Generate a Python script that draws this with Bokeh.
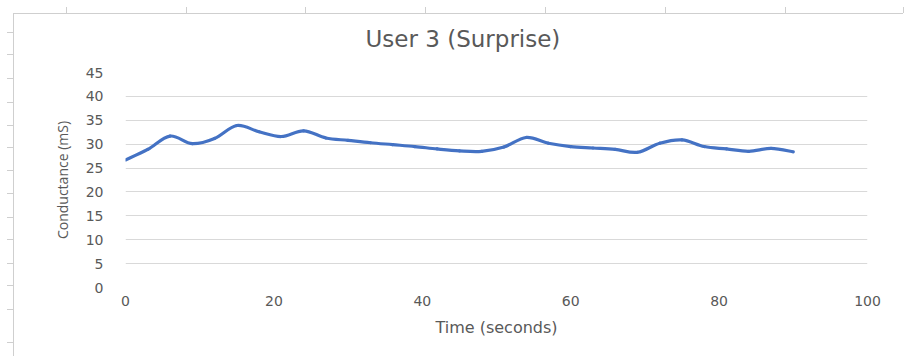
import numpy as np
from bokeh.plotting import figure
from bokeh.models import Range1d, FixedTicker
from bokeh.embed import file_html
from bokeh.resources import INLINE

# Skin conductance readings, one every 3 seconds
time_s = [0, 3, 6, 9, 12, 15, 18, 21, 24, 27, 30, 33, 36, 39, 42, 45,
          48, 51, 54, 57, 60, 63, 66, 69, 72, 75, 78, 81, 84, 87, 90]
conductance_ms = [26.7, 28.9, 31.7, 30.1, 31.2, 33.9, 32.6, 31.6, 32.8, 31.3,
                  30.8, 30.3, 29.9, 29.5, 29.0, 28.6, 28.5, 29.4, 31.4, 30.2,
                  29.5, 29.2, 28.9, 28.3, 30.2, 30.9, 29.5, 29.0, 28.5, 29.1, 28.4]

chart_title = "User 3 (Surprise)"
x_title = "Time (seconds)"
y_title = "Conductance (mS)"
x_ticks = [0, 20, 40, 60, 80, 100]
y_ticks = [0, 5, 10, 15, 20, 25, 30, 35, 40, 45]

TEXT = "#595959"
GRID = "#d9d9d9"
LINE = "#4472C4"
SHEET = "#cfcfcf"

# Worksheet cell edges showing around the chart, drawn as CSS background layers
EDGE = 13
left_marks = [32, 54, 78, 102, 125, 147, 170, 193, 217, 239, 263, 285, 309, 342]
top_marks = [66, 186, 305, 425, 545, 665, 785, 903]
rule = f"linear-gradient({SHEET}, {SHEET})"
layers = [f"{rule} {EDGE}px {EDGE}px / 1px {356 - EDGE}px no-repeat",
          f"{rule} {EDGE}px {EDGE}px / {903 - EDGE}px 1px no-repeat"]
layers += [f"{rule} {EDGE - 6}px {ym}px / 6px 1px no-repeat" for ym in left_marks]
layers += [f"{rule} {xm}px {EDGE - 6}px / 1px 6px no-repeat" for xm in top_marks]

p = figure(width=907, height=356, output_backend="svg", toolbar_location=None,
           x_range=Range1d(0, 100), y_range=Range1d(0, 45),
           min_border_left=125, min_border_right=40,
           min_border_top=72, min_border_bottom=69)
p.styles = {"background": ", ".join(layers + ["white"])}
p.outline_line_color = None
p.background_fill_color = "white"
p.border_fill_color = None

# Chart title
p.title.text = chart_title
p.title.align = "left"
p.title.offset = 240
p.title.standoff = 42
p.title.text_color = TEXT
p.title.text_font = "DejaVu Sans"
p.title.text_font_size = "23px"
p.title.text_font_style = "normal"

# Axes: labels only, no axis lines or tick marks
p.xaxis.ticker = FixedTicker(ticks=x_ticks)
p.yaxis.ticker = FixedTicker(ticks=y_ticks)
for ax in (p.xaxis[0], p.yaxis[0]):
    ax.axis_line_color = None
    ax.major_tick_line_color = None
    ax.minor_tick_line_color = None
    ax.major_tick_in = 0
    ax.major_tick_out = 0
    ax.minor_tick_in = 0
    ax.minor_tick_out = 0
    ax.major_label_text_color = TEXT
    ax.major_label_text_font = "DejaVu Sans"
    ax.major_label_text_font_size = "14px"
    ax.axis_label_text_color = TEXT
    ax.axis_label_text_font_style = "normal"

p.xaxis.axis_label = x_title
p.xaxis.major_label_standoff = 8
p.xaxis.axis_label_standoff = 9
p.xaxis.axis_label_text_font = "DejaVu Sans"
p.xaxis.axis_label_text_font_size = "16px"

p.yaxis.axis_label = y_title
p.yaxis.major_label_standoff = 22
p.yaxis.axis_label_standoff = 11
p.yaxis.axis_label_text_font = "Open Sans"
p.yaxis.axis_label_text_font_size = "14px"

p.xgrid.grid_line_color = None
p.ygrid.grid_line_color = GRID
p.ygrid.grid_line_width = 1

# Smoothed series: cubic Bezier segments through consecutive readings
x = np.asarray(time_s, dtype=float)
y = np.asarray(conductance_ms, dtype=float)
xp = np.concatenate([[x[0]], x, [x[-1]]])
yp = np.concatenate([[y[0]], y, [y[-1]]])
n = len(x) - 1
x0, y0 = x[:-1], y[:-1]
x1, y1 = x[1:], y[1:]
cx0 = x0 + (xp[2:n + 2] - xp[0:n]) / 6.0
cy0 = y0 + (yp[2:n + 2] - yp[0:n]) / 6.0
cx1 = x1 - (xp[3:n + 3] - xp[1:n + 1]) / 6.0
cy1 = y1 - (yp[3:n + 3] - yp[1:n + 1]) / 6.0
p.bezier(x0=x0, y0=y0, x1=x1, y1=y1, cx0=cx0, cy0=cy0, cx1=cx1, cy1=cy1,
         line_color=LINE, line_width=3.2, line_cap="round")

open("out.html", "w").write(file_html(p, INLINE))
